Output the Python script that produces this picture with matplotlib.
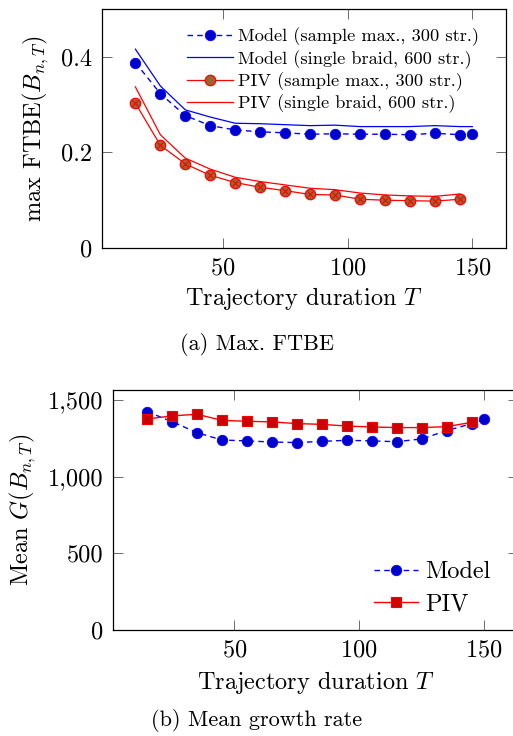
import matplotlib
matplotlib.use("Agg")
import matplotlib.pyplot as plt
from matplotlib.ticker import FuncFormatter

plt.rcParams['font.family'] = ['cmr10', 'DejaVu Serif']
plt.rcParams['mathtext.fontset'] = 'cm'
plt.rcParams['axes.formatter.use_mathtext'] = True

# top panel data: max FTBE vs trajectory duration
T_model = [15, 25, 35, 45, 55, 65, 75, 85, 95, 105, 115, 125, 135, 145, 150]
ftbe_model_max = [0.388, 0.323, 0.277, 0.256, 0.247, 0.243, 0.241, 0.238, 0.239,
                  0.238, 0.238, 0.237, 0.240, 0.237, 0.238]
ftbe_model_single = [0.416, 0.339, 0.289, 0.274, 0.261, 0.260, 0.258, 0.256, 0.257,
                     0.254, 0.254, 0.254, 0.256, 0.254, 0.254]
T_piv = [15, 25, 35, 45, 55, 65, 75, 85, 95, 105, 115, 125, 135, 145]
ftbe_piv_max = [0.303, 0.215, 0.176, 0.152, 0.137, 0.127, 0.120, 0.112, 0.111,
                0.102, 0.100, 0.099, 0.098, 0.102]
ftbe_piv_single = [0.337, 0.237, 0.188, 0.165, 0.148, 0.139, 0.132, 0.125, 0.122,
                   0.115, 0.111, 0.109, 0.108, 0.113]

# bottom panel data: mean growth rate
growth_model = [1424, 1359, 1287, 1239, 1233, 1226, 1222, 1230, 1237, 1233, 1228,
                1246, 1300, 1345, 1374]
growth_piv = [1376, 1396, 1407, 1367, 1361, 1357, 1346, 1341, 1330, 1324, 1320,
              1320, 1326, 1354]

BLUE = '#0000ff'
BLUE_FILL = '#0000cc'
RED = '#ff0000'
RED_FILL = '#cc0000'
BROWN = '#99662e'

FS = 17.5      # tick / axis label size
W, H = 513.0, 736.0
fig = plt.figure(figsize=(5.13, 7.36), dpi=100)

def style_axes(ax):
    for s in ax.spines.values():
        s.set_linewidth(0.9)
    ax.tick_params(direction='in', length=7.5, width=0.6, color='#555555',
                   top=True, right=True, labelsize=FS, pad=7)

# (a) top panel
ax1 = fig.add_axes([101.7 / W, 1 - 248 / H, (506 - 101.7) / W, (248 - 9) / H])
ax1.plot(T_model, ftbe_model_max, color=BLUE, lw=1.0, ls=(0, (4, 3)),
         marker='o', ms=7.5, mfc=BLUE_FILL, mec=BLUE, mew=0.6,
         label='Model (sample max., 300 str.)')
ax1.plot(T_model, ftbe_model_single, color=BLUE, lw=0.9,
         label='Model (single braid, 600 str.)')
ax1.plot(T_piv, ftbe_piv_max, color=RED, lw=0.9,
         marker='o', ms=7.5, mfc=BROWN, mec=RED, mew=0.9,
         label='PIV (sample max., 300 str.)')
ax1.plot(T_piv, ftbe_piv_max, ls='none', marker='x', ms=5, mec=RED, mew=0.8)
ax1.plot(T_piv, ftbe_piv_single, color=RED, lw=0.9,
         label='PIV (single braid, 600 str.)')
ax1.set_xlim(1.5, 163.5)
ax1.set_ylim(0, 0.5)
ax1.set_xticks([50, 100, 150])
ax1.set_yticks([0, 0.2, 0.4])
ax1.yaxis.set_major_formatter(FuncFormatter(lambda v, p: '0' if v == 0 else f'{v:.1f}'))
style_axes(ax1)
ax1.set_xlabel('Trajectory duration $T$', fontsize=FS, labelpad=4)
ax1.set_ylabel('max FTBE$(B_{n,T})$', fontsize=FS, labelpad=7)
ax1.legend(loc='upper left', bbox_to_anchor=(0.193, 0.953), frameon=False,
           fontsize=13.2, handlelength=2.5, handletextpad=0.3, labelspacing=0.2,
           borderaxespad=0)

fig.text(257 / W, 1 - 344 / H, '(a) Max. FTBE', ha='center', va='center', fontsize=16)

# (b) bottom panel
ax2 = fig.add_axes([113.3 / W, 1 - 630 / H, (517.75 - 113.3) / W, (630 - 390) / H])
ax2.plot(T_model, growth_model, color=BLUE, lw=1.0, ls=(0, (4, 3)),
         marker='o', ms=7.5, mfc=BLUE_FILL, mec=BLUE, mew=0.6, label='Model')
ax2.plot(T_piv, growth_piv, color=RED, lw=1.0,
         marker='s', ms=7, mfc=RED_FILL, mec=RED, mew=0.8, label='PIV')
ax2.set_xlim(1.5, 163.5)
ax2.set_ylim(0, 1565)
ax2.set_xticks([50, 100, 150])
ax2.set_yticks([0, 500, 1000, 1500])
ax2.yaxis.set_major_formatter(FuncFormatter(lambda v, p: f'{int(v):,}'))
style_axes(ax2)
ax2.set_xlabel('Trajectory duration $T$', fontsize=FS, labelpad=5)
ax2.set_ylabel('Mean $G(B_{n,T})$', fontsize=FS, labelpad=7)
ax2.legend(loc='lower left', bbox_to_anchor=(0.62, 0.02), frameon=False,
           fontsize=FS, handlelength=1.8, handletextpad=0.3, labelspacing=0.42,
           borderaxespad=0)

fig.text(257 / W, 1 - 720 / H, '(b) Mean growth rate', ha='center', va='center', fontsize=16)

fig.savefig('out.png', dpi=100)
